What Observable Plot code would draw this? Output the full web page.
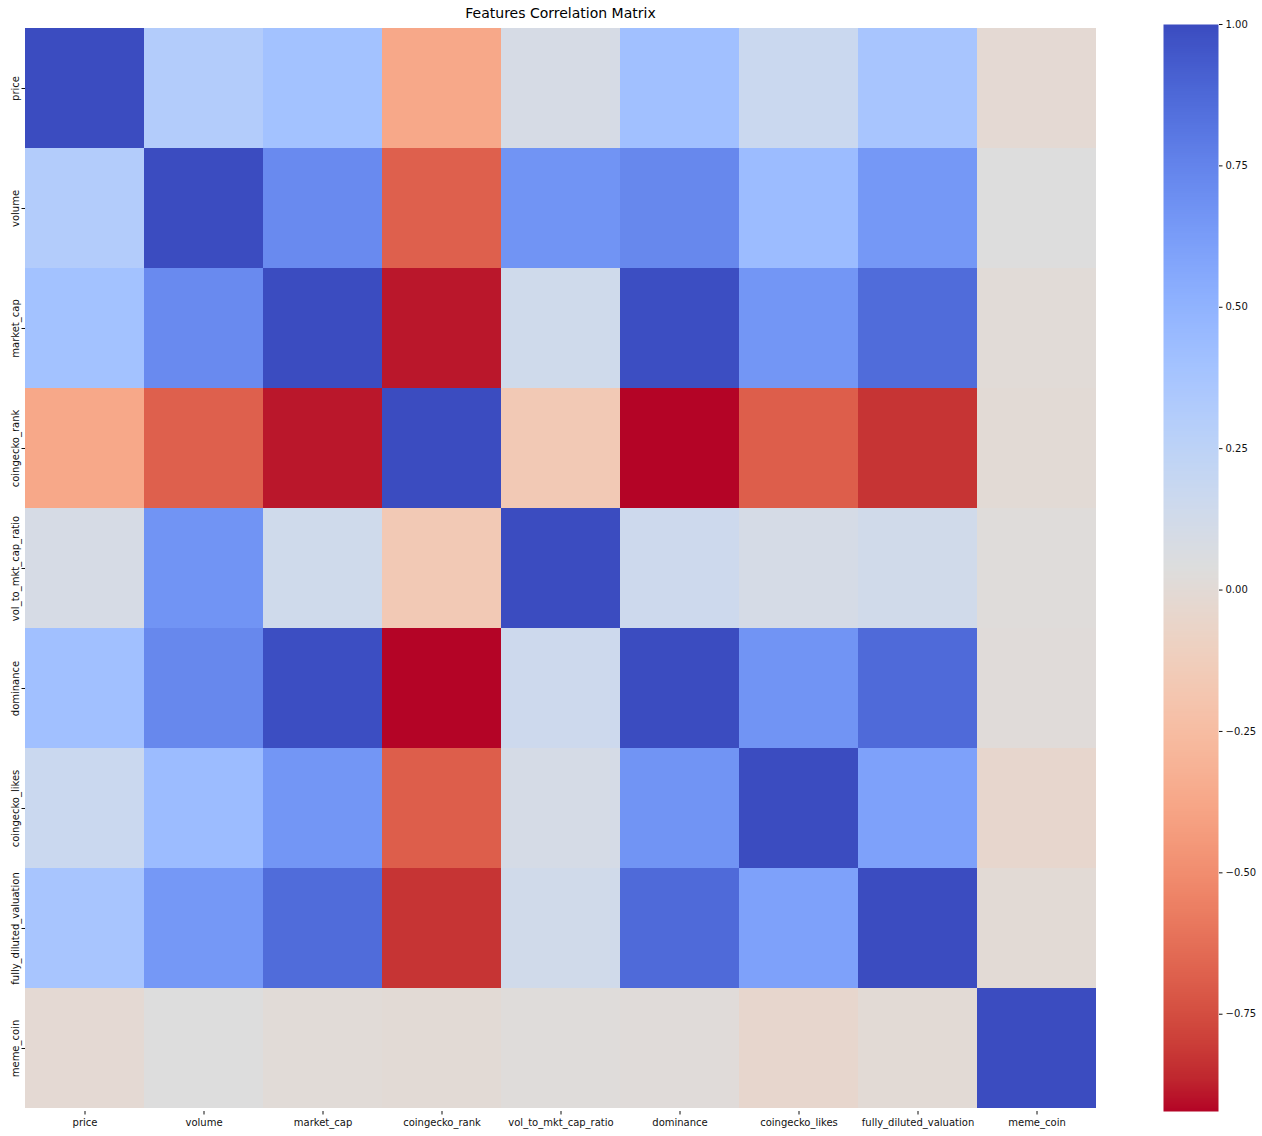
<!DOCTYPE html>
<html><head><meta charset="utf-8">
<script src="https://cdn.jsdelivr.net/npm/d3@7"></script>
<script src="https://cdn.jsdelivr.net/npm/@observablehq/plot@0.6"></script>
<style>
html,body{margin:0;padding:0;background:#fff;}
#wrap{position:relative;width:1262px;height:1136px;overflow:hidden;font-family:"DejaVu Sans",sans-serif;background:#fff;}
#title{position:absolute;left:25px;width:1071px;top:5px;text-align:center;font-size:14px;line-height:16px;color:#000;z-index:2;}
#heat{position:absolute;left:0;top:0;z-index:1;}
#cbar{position:absolute;left:1163px;top:0;z-index:1;}
</style></head><body>
<div id="wrap"><div id="title">Features Correlation Matrix</div><div id="heat"></div><div id="cbar"></div></div>
<script>
const features = ["price","volume","market_cap","coingecko_rank","vol_to_mkt_cap_ratio","dominance","coingecko_likes","fully_diluted_valuation","meme_coin"];
const price          = [ 1.00,  0.31,  0.40, -0.37,  0.09,  0.41,  0.17,  0.37, -0.01];
const volume         = [ 0.31,  1.00,  0.72, -0.68,  0.67,  0.73,  0.44,  0.65,  0.04];
const market_cap     = [ 0.40,  0.72,  1.00, -0.89,  0.14,  0.99,  0.66,  0.86,  0.01];
const coingecko_rank = [-0.37, -0.68, -0.89,  1.00, -0.16, -0.922,-0.69, -0.83,  0.00];
const vol_to_mkt_cap_ratio = [0.09, 0.67, 0.14, -0.16, 1.00, 0.15, 0.10, 0.13, 0.025];
const dominance      = [ 0.41,  0.73,  0.99, -0.922, 0.15,  1.00,  0.67,  0.87,  0.02];
const coingecko_likes= [ 0.17,  0.44,  0.66, -0.69,  0.10,  0.67,  1.00,  0.60, -0.04];
const fully_diluted_valuation = [0.37, 0.65, 0.86, -0.83, 0.13, 0.87, 0.60, 1.00, 0.00];
const meme_coin      = [-0.01,  0.04,  0.01,  0.00,  0.025, 0.02, -0.04,  0.00,  1.00];
const rows = [price, volume, market_cap, coingecko_rank, vol_to_mkt_cap_ratio, dominance, coingecko_likes, fully_diluted_valuation, meme_coin];
const cbarTicks = [-0.75, -0.5, -0.25, 0, 0.25, 0.5, 0.75, 1.0];

// matplotlib "coolwarm" control colours (reversed use => coolwarm_r)
const coolwarm = [
 [59,76,192],[68,90,204],[77,104,215],[87,117,225],[98,130,234],[108,142,241],[119,154,247],[130,165,251],
 [141,176,254],[152,185,255],[163,194,255],[174,201,253],[184,208,249],[194,213,244],[204,217,238],[213,219,230],
 [221,221,221],[229,216,209],[236,211,197],[241,204,185],[245,196,173],[247,187,160],[247,177,148],[247,166,135],
 [244,154,123],[241,141,111],[236,127,99],[229,112,88],[222,96,77],[213,80,66],[203,62,56],[192,40,47],[180,4,38]
].map(c => `rgb(${c[0]},${c[1]},${c[2]})`);
const cw = d3.piecewise(d3.interpolateRgb, coolwarm);

const cells = [];
rows.forEach((r, i) => r.forEach((v, j) => cells.push({row: features[i], col: features[j], value: v})));
const vmin = d3.min(cells, d => d.value), vmax = d3.max(cells, d => d.value);
const colorOpts = {type: "linear", domain: [vmin, vmax], interpolate: t => cw(1 - t)};
const style = {fontFamily: "DejaVu Sans", fontSize: "10px", color: "#111", background: "transparent", overflow: "visible"};

const heat = Plot.plot({
  width: 1100, height: 1136,
  marginLeft: 25, marginRight: 4, marginTop: 24, marginBottom: 25,
  style,
  x: {type: "band", domain: features, padding: 0, label: null},
  y: {type: "band", domain: features, padding: 0, label: null},
  color: colorOpts,
  marks: [
    Plot.cell(cells, {x: "col", y: "row", fill: "value", shapeRendering: "crispEdges"}),
    Plot.axisX({anchor: "bottom", tickSize: 3.5, tickPadding: 3.5, label: null}),
    Plot.axisY({anchor: "left", tickSize: 3.5, tickPadding: 3.5, tickRotate: -90, label: null})
  ]
});
document.getElementById("heat").appendChild(heat);

const cbar = Plot.plot({
  width: 99, height: 1136,
  marginLeft: 0, marginRight: 44, marginTop: 24, marginBottom: 25,
  style,
  x: {domain: [0, 1], axis: null},
  y: {domain: [vmin, vmax], label: null},
  color: colorOpts,
  marks: [
    Plot.raster({x1: 0, x2: 1, y1: vmin, y2: vmax, width: 1, height: 512, fill: (x, y) => y}),
    Plot.axisY({anchor: "right", ticks: cbarTicks, tickSize: 3.5, tickPadding: 3.5, tickFormat: d3.format(".2f"), label: null})
  ]
});
document.getElementById("cbar").appendChild(cbar);
</script>
</body></html>
